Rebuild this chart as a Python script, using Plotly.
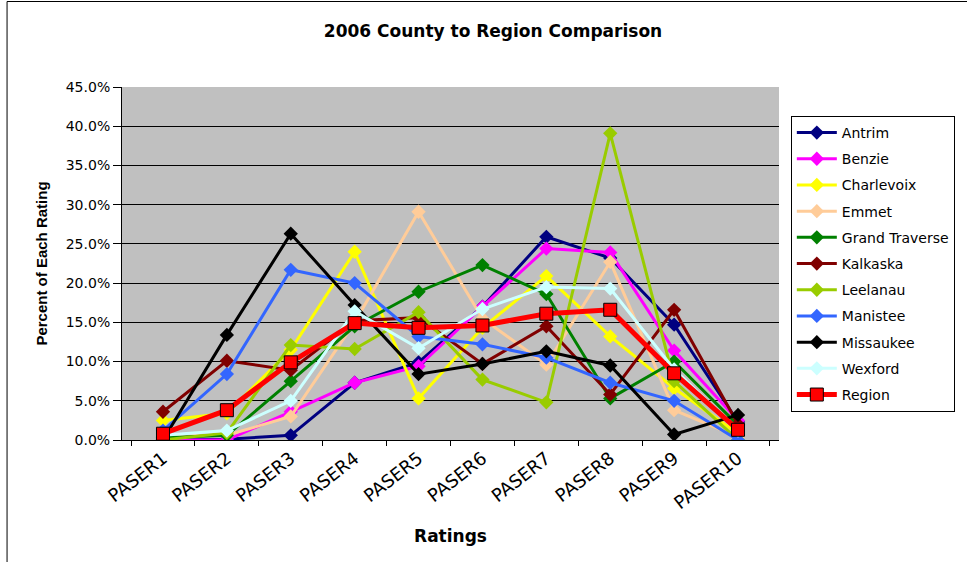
import plotly.graph_objects as go

# PASER rating categories
ratings = ["PASER1", "PASER2", "PASER3", "PASER4", "PASER5",
           "PASER6", "PASER7", "PASER8", "PASER9", "PASER10"]

# Percent of each rating, by county
antrim = [0.0, 0.1, 0.6, 7.3, 9.9, 17.0, 25.9, 23.2, 14.7, 2.3]
benzie = [0.0, 0.0, 3.6, 7.3, 9.4, 17.0, 24.4, 23.9, 11.4, 2.5]
charlevoix = [2.5, 3.4, 11.5, 24.0, 5.3, 14.3, 20.9, 13.2, 6.6, 0.8]
emmet = [0.5, 0.6, 3.0, 15.0, 29.1, 15.5, 9.6, 22.7, 3.8, 0.4]
grand_traverse = [0.3, 0.6, 7.5, 14.5, 18.9, 22.3, 18.6, 5.3, 10.0, 1.9]
kalkaska = [3.6, 10.1, 8.9, 15.2, 15.6, 9.7, 14.5, 5.8, 16.6, 2.0]
leelanau = [0.0, 0.9, 12.1, 11.6, 16.3, 7.7, 4.8, 39.1, 7.5, 0.0]
manistee = [1.2, 8.4, 21.7, 20.0, 13.2, 12.2, 10.5, 7.3, 5.0, 0.0]
missaukee = [0.0, 13.4, 26.3, 17.2, 8.4, 9.7, 11.3, 9.5, 0.7, 3.2]
wexford = [0.6, 1.2, 5.0, 16.4, 11.7, 16.7, 19.5, 19.3, 9.0, 1.2]
region = [0.8, 3.8, 9.9, 14.9, 14.3, 14.6, 16.1, 16.6, 8.5, 1.3]

counties = [
    ("Antrim", antrim, "#000080"),
    ("Benzie", benzie, "#FF00FF"),
    ("Charlevoix", charlevoix, "#FFFF00"),
    ("Emmet", emmet, "#FFCC99"),
    ("Grand Traverse", grand_traverse, "#008000"),
    ("Kalkaska", kalkaska, "#800000"),
    ("Leelanau", leelanau, "#99CC00"),
    ("Manistee", manistee, "#3366FF"),
    ("Missaukee", missaukee, "#000000"),
    ("Wexford", wexford, "#CCFFFF"),
]

WIDE = "DejaVu Sans, Verdana, sans-serif"
NARROW = "Liberation Sans, Arial, sans-serif"

fig = go.Figure()
for name, values, color in counties:
    fig.add_trace(go.Scatter(
        x=ratings, y=values, name=name, mode="lines+markers",
        legendgroup=name,
        line=dict(color=color, width=3),
        marker=dict(symbol="diamond", size=11, color=color),
    ))

fig.add_trace(go.Scatter(
    x=ratings, y=region, name="Region", mode="lines+markers",
    legendgroup="Region",
    line=dict(color="#FF0000", width=5),
    marker=dict(symbol="square", size=13, color="#FF0000",
                line=dict(color="#000000", width=1)),
))

fig.update_layout(
    width=967, height=562,
    margin=dict(l=122, r=182, t=87, b=122),
    paper_bgcolor="white",
    plot_bgcolor="#C0C0C0",
    font=dict(family=WIDE, color="black", size=13),
    title=dict(text="<b>2006 County to Region Comparison</b>",
               x=493 / 967, xanchor="center", y=1 - 31 / 562,
               yanchor="middle", font=dict(size=17)),
    legend=dict(x=1.018, xanchor="left", y=0.918, yanchor="top",
                bordercolor="black", borderwidth=1, bgcolor="white",
                font=dict(size=14), tracegroupgap=5,
                itemwidth=40),
    showlegend=True,
)

fig.update_xaxes(
    type="category", tickangle=-38,
    title=dict(text="<b>Ratings</b>", font=dict(size=17), standoff=17),
    showline=True, linecolor="black", linewidth=1,
    ticks="outside", tickson="boundaries", ticklen=5, tickcolor="black",
    showgrid=False, tickfont=dict(size=18),
)
fig.update_yaxes(
    range=[0, 45], dtick=5, tickformat=".1f", ticksuffix="%",
    title=dict(text="<b>Percent of Each Rating</b>",
               font=dict(size=15, family=NARROW), standoff=14),
    showline=True, linecolor="black", linewidth=1,
    ticks="outside", ticklen=8, tickcolor="black",
    showgrid=True, gridcolor="black", gridwidth=1,
    zeroline=False, tickfont=dict(size=14),
)

# outer chart frame
fig.add_shape(type="rect", xref="paper", yref="paper",
              x0=(6 - 122) / 663, x1=1.4,
              y0=-0.6, y1=1 + (87 - 1.5) / 353,
              line=dict(color="black", width=1), layer="below")

fig.write_html("out.html")
